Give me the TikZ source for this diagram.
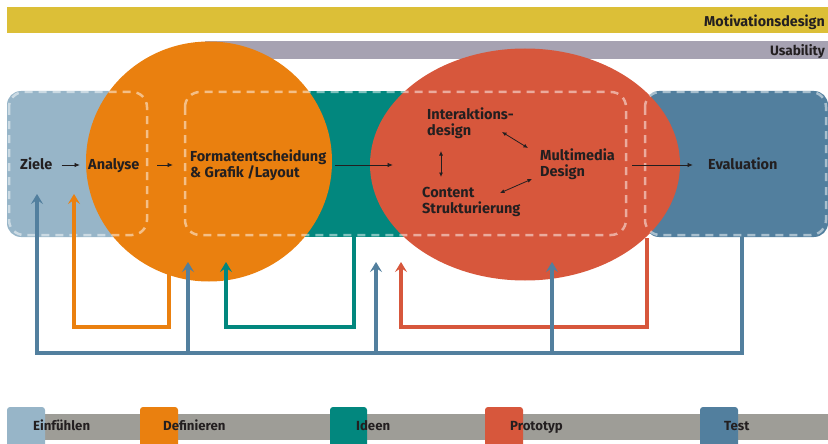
\documentclass[tikz,border=0pt]{standalone}
\usepackage{fontspec}
\setmainfont{Fira Sans}
\usetikzlibrary{arrows.meta,shapes.geometric}

\definecolor{cYellow}{HTML}{DCBF37}
\definecolor{cUsab}{HTML}{A6A2B2}
\definecolor{cLight}{HTML}{97B5C8}
\definecolor{cOrange}{HTML}{EA800F}
\definecolor{cTeal}{HTML}{02877E}
\definecolor{cRed}{HTML}{D7573C}
\definecolor{cDark}{HTML}{527F9E}
\definecolor{cLegend}{HTML}{9E9D97}
\definecolor{cText}{HTML}{231F20}

\tikzset{
  lbl/.style={font=\bfseries\fontsize{14.5}{16}\selectfont, text=cText, inner sep=0pt, align=left},
  barlbl/.style={font=\bfseries\fontsize{14.3}{16}\selectfont, text=cText, inner sep=0pt},
  leglbl/.style={font=\bfseries\fontsize{13.2}{15}\selectfont, text=cText, inner sep=0pt},
  flow/.style={draw=cText, line width=0.9pt, -{Latex[length=5.5pt,width=4.5pt]}},
  dbl/.style={draw=cText, line width=0.8pt, {Latex[length=4.5pt,width=4pt]}-{Latex[length=4.5pt,width=4pt]}},
  fb/.style={line width=3.6pt, -{Stealth[length=10pt,width=12pt,inset=4pt]}},
  dashframe/.style={draw=white, draw opacity=0.5, line width=2.5pt, dash pattern=on 8pt off 6pt, rounded corners=15pt},
  phase/.style={ellipse, inner sep=0pt, draw=none},
}

\begin{document}
\begin{tikzpicture}[x=1pt,y=-1pt]
\useasboundingbox (0,0) rectangle (828,444);

% bands on top
\fill[cYellow] (7,7) rectangle (828,33);
\node[barlbl, anchor=base east] (motiv) at (825,27) {Motivationsdesign};
\fill[cUsab] (205,41) rectangle (828,59);
\node[barlbl, font=\bfseries\fontsize{13.6}{15}\selectfont, anchor=base east] (usab) at (825,55.5) {Usability};

% phase boxes
\fill[cLight, rounded corners=14pt] (7,91) rectangle (260,237);
\fill[cTeal] (240,91) rectangle (430,237);
\fill[cDark, rounded corners=14pt] (645,91) rectangle (828,237);

% phase bubbles
\node[phase, fill=cOrange, minimum width=246pt, minimum height=240pt] (define) at (209,161.5) {};
\node[phase, fill=cRed, minimum width=310pt, minimum height=232pt] (proto) at (525,164.5) {};

% dashed frames
\draw[dashframe] (9,92) rectangle (147,235);
\draw[dashframe] (185,92) rectangle (626,235);
\draw[dashframe] (645,92) rectangle (826,235);

% labels
\node[lbl, anchor=base west] (ziele) at (20,169) {Ziele};
\node[lbl, anchor=base west] (analyse) at (88,169) {Analyse};
\node[lbl, anchor=west] (format) at (190,165.5) {Formatentscheidung\\\& Grafik /Layout};
\node[lbl, anchor=west] (inter) at (427,123.5) {Interaktions-\\design};
\node[lbl, anchor=west] (content) at (422,202) {Content\\Strukturierung};
\node[lbl, anchor=west] (multi) at (540,164) {Multimedia\\Design};
\node[lbl, anchor=base west] (eval) at (708,169) {Evaluation};

\coordinate (zieleEnd) at (80,165);
\coordinate (analyseStart) at (157,165);
\coordinate (formatStart) at (335,165);
\coordinate (formatEnd) at (393,165);
\coordinate (evalStart) at (632,165);

% flow arrows
\draw[flow] (ziele.east |- zieleEnd) ++(9pt,0) -- (zieleEnd);
\draw[flow] (analyseStart) -- ([xshift=-17pt]format.west |- analyseStart);
\draw[flow] (formatStart) -- (formatEnd);
\draw[flow] (evalStart) -- ([xshift=-15pt]eval.west |- evalStart);

% arrows inside the prototype bubble
\draw[dbl] (441,151) -- (441,177);
\draw[dbl] (502,132) -- (528,148);
\draw[dbl] (500,193) -- (532,179);

% feedback loops
\draw[fb, cOrange] (169,262) -- (169,327) -- (74,327) -- (74,194);
\draw[fb, cTeal] (354,237) -- (354,327) -- (226,327) -- (226,262);
\draw[fb, cRed] (647,238) -- (647,327) -- (401,327) -- (401,262);
\draw[fb, cDark] (742,237) -- (742,353) -- (37,353) -- (37,194);
\draw[fb, cDark] (188,353) -- (188,262);
\draw[fb, cDark] (376,353) -- (376,262);
\draw[fb, cDark] (552,353) -- (552,262);

% legend
\fill[cLegend] (7,414) rectangle (828,440);
\fill[cLight] (7,444) {[rounded corners=3pt] -- (7,407) -- (45,407)} -- (45,444) -- cycle;
\fill[cOrange] (140,444) {[rounded corners=3pt] -- (140,407) -- (178,407)} -- (178,444) -- cycle;
\fill[cTeal] (330,444) {[rounded corners=3pt] -- (330,407) -- (367,407)} -- (367,444) -- cycle;
\fill[cRed] (485,444) {[rounded corners=3pt] -- (485,407) -- (523,407)} -- (523,444) -- cycle;
\fill[cDark] (700,444) {[rounded corners=3pt] -- (700,407) -- (738,407)} -- (738,444) -- cycle;
\node[leglbl, anchor=base west] (l1) at (33,430) {Einfühlen};
\node[leglbl, anchor=base west] (l2) at (163,430) {Definieren};
\node[leglbl, anchor=base west] (l3) at (356,430) {Ideen};
\node[leglbl, anchor=base west] (l4) at (510,430) {Prototyp};
\node[leglbl, anchor=base west] (l5) at (724,430) {Test};
\end{tikzpicture}
\end{document}
